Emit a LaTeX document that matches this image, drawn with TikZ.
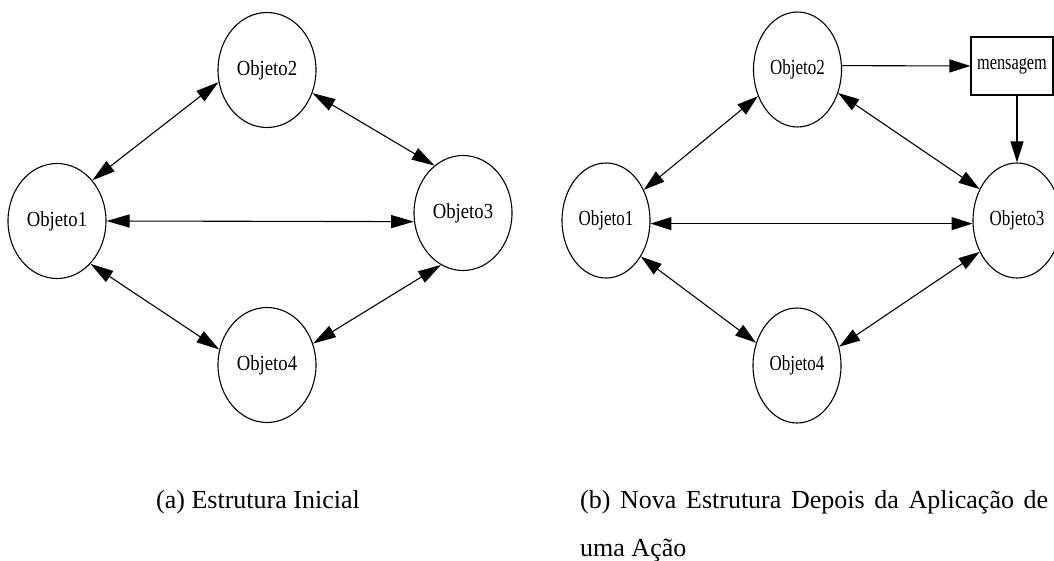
\documentclass[tikz,border=0pt]{standalone}
\usepackage{fontspec}
\setmainfont{Liberation Serif}
% narrower cuts of the serif face for the node labels
\newfontfamily\lblwide{Liberation Serif}[FakeStretch=0.87]
\newfontfamily\lblnarrow{Liberation Serif}[FakeStretch=0.79]
\newfontfamily\lblmsg{Liberation Serif}[FakeStretch=0.76]
\usetikzlibrary{shapes.geometric,arrows.meta}

\begin{document}
\begin{tikzpicture}[x=1pt,y=-1pt,
  objA/.style={ellipse,draw,line width=1.1pt,minimum width=98pt,minimum height=115pt,
    inner sep=0pt,font=\lblwide\fontsize{21.5}{24}\selectfont},
  objB/.style={objA,minimum width=88pt,font=\lblnarrow\fontsize{21.5}{24}\selectfont},
  msgbox/.style={rectangle,draw,line width=1.1pt,minimum width=82pt,minimum height=58pt,
    inner sep=0pt,font=\lblmsg\fontsize{21.5}{24}\selectfont},
  link/.style={line width=1.1pt},
  bothA/.style={link,{Triangle[length=23pt,width=13pt]}-{Triangle[length=23pt,width=13pt]}},
  bothB/.style={link,{Triangle[length=21pt,width=13pt]}-{Triangle[length=21pt,width=13pt]}},
  toB/.style={link,-{Triangle[length=21pt,width=13pt]}},
  capt/.style={font=\fontsize{26}{48}\selectfont,inner sep=0pt,anchor=base west}
]
\useasboundingbox (0,0) rectangle (1054,561);
\fill[white] (0,0) rectangle (1054,561);
\clip (0,0) rectangle (1054,561);

% (a) initial structure
\node[objA] (L1) at (57,221)  {Objeto1};
\node[objA] (L2) at (267,70)  {Objeto2};
\node[objA] (L3) at (463,213) {Objeto3};
\node[objA] (L4) at (267,365) {Objeto4};

\draw[bothA] (L1.49)  -- (L2.194);
\draw[bothA] (L2.-27) -- (L3.121);
\draw[bothA] (L1.0)   -- (L3.190);
\draw[bothA] (L1.-52) -- (L4.162);
\draw[bothA] (L4.25)  -- (L3.247);

% (b) structure after an action, with the message box
\node[objB] (R1) at (606,220.5)  {Objeto1};
\node[objB] (R2) at (797.5,69.5) {Objeto2};
\node[objB] (R3) at (1017,220.5) {Objeto3};
\node[objB] (R4) at (797,365.5)  {Objeto4};
\node[msgbox] (M) at (1012,66) {mensagem};

\draw[bothB] (R1.39)   -- (R2.214);
\draw[bothB] (R2.-30)  -- (R3.140);
\draw[bothB] (R1.-4.5) -- (R3.184.5);
\draw[bothB] (R1.-46)  -- (R4.151);
\draw[bothB] (R4.24)   -- (R3.220);
\draw[toB] (R2.5) -- (M.west);
\draw[toB] (M.south -| R3.north) -- (R3.north);

% sub-captions
\node[capt] (capA)  at (156,508) {(a) Estrutura Inicial};
\node[capt] (capB1) at (580,508) {\makebox[468pt][s]{(b) Nova Estrutura Depois da Aplicação de}};
\node[capt] (capB2) at (580,556) {uma Ação};
\end{tikzpicture}
\end{document}
